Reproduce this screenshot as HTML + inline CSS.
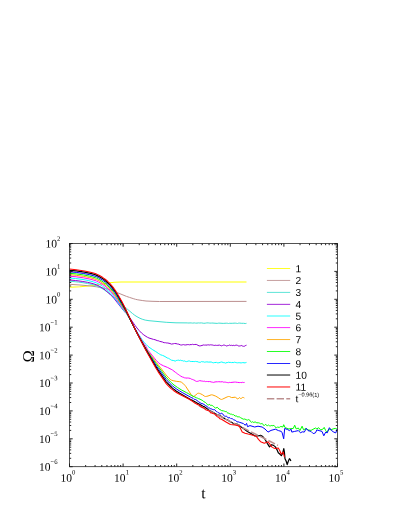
<!DOCTYPE html>
<html>
<head>
<meta charset="utf-8">
<title>Omega vs t</title>
<style>
html,body{margin:0;padding:0;background:#fff;}
body{width:407px;height:527px;overflow:hidden;font-family:"Liberation Sans",sans-serif;}
#plot{width:407px;height:527px;will-change:transform;}
svg{display:block;}
</style>
</head>
<body>
<div id="plot">
<svg width="407" height="527" viewBox="0 0 407 527">
<rect width="407" height="527" fill="#ffffff"/>
<g fill="none" stroke-linejoin="round" stroke-linecap="butt">
<polyline stroke="#ffff00" stroke-width="1.05" points="69.5,287.3 80.0,286.8 88.2,286.1 96.5,285.1 102.5,284.1 107.8,283.1 110.0,282.8 114.5,282.3 121.2,281.9 246.5,282.0"/>
<polyline stroke="#bc8f8f" stroke-width="1.00" points="69.5,284.3 80.0,285.0 89.8,285.9 96.5,286.8 103.2,288.1 107.8,289.1 111.5,290.3 115.2,291.8 126.5,296.4 129.5,297.4 133.2,298.6 135.5,299.3 137.8,299.8 142.2,300.5 146.0,301.0 152.0,301.3 159.5,301.5 246.5,301.4"/>
<polyline stroke="#40e0d0" stroke-width="1.00" points="69.5,281.2 74.0,281.6 78.5,282.1 83.0,282.7 87.5,283.5 91.2,284.3 95.0,285.3 97.2,286.1 99.5,287.2 102.5,288.8 104.0,289.7 107.0,291.9 110.0,294.2 112.2,296.1 119.0,302.8 122.8,306.2 124.2,307.3 126.5,308.4 127.2,309.0 132.5,313.5 134.8,315.3 137.0,316.7 140.0,318.3 142.2,319.2 145.2,320.1 149.0,320.7 166.2,322.3 176.0,322.8 187.2,322.9 188.0,323.0 191.0,322.9 191.8,323.0 192.5,323.1 194.8,322.9 195.5,323.1 197.0,323.1 198.5,322.9 199.2,323.0 201.5,322.9 203.8,323.3 205.2,323.2 206.8,322.9 208.2,322.9 209.8,323.1 211.2,323.1 212.0,323.0 217.2,323.4 218.8,323.1 223.2,323.4 226.2,323.2 227.8,323.3 228.5,323.5 229.2,323.3 232.2,323.3 235.2,323.1 236.0,323.3 236.8,323.3 237.5,323.5 238.2,323.2 239.8,323.1 241.2,323.3 243.5,323.3 245.0,323.5 245.8,323.5 246.5,323.3"/>
<polyline stroke="#9400d3" stroke-width="1.00" points="69.5,280.0 75.5,280.5 82.2,281.4 87.5,282.3 92.0,283.4 95.0,284.3 98.0,285.5 101.0,287.2 104.0,289.1 107.0,291.5 110.0,294.2 111.5,295.7 113.8,298.2 123.5,310.5 124.2,311.4 126.5,313.3 127.2,314.2 130.2,318.4 134.8,325.1 137.0,328.0 139.2,330.6 141.5,333.0 143.8,334.9 146.0,336.4 147.5,337.3 149.0,338.0 153.5,339.4 155.0,339.7 157.2,340.6 158.8,340.9 159.5,341.3 162.5,342.0 164.0,342.7 164.8,342.7 165.5,342.7 166.2,342.9 167.8,343.0 170.0,343.5 171.5,344.1 173.8,343.7 174.5,343.5 176.0,343.6 177.5,344.0 178.2,344.0 180.5,344.9 181.2,345.0 182.0,345.0 182.8,344.7 183.5,344.6 184.2,344.9 185.0,344.8 185.8,345.0 187.2,344.6 188.0,344.7 188.8,344.6 189.5,344.8 191.0,344.5 191.8,344.6 192.5,344.3 193.2,344.6 194.0,344.5 194.8,344.5 196.2,344.4 199.2,345.9 200.8,345.8 203.8,344.9 204.5,345.1 205.2,345.0 206.0,345.2 207.5,344.9 208.2,344.9 209.0,344.8 209.8,345.1 210.5,344.8 211.2,344.8 212.0,345.1 212.8,345.0 213.5,345.3 214.2,345.4 215.0,345.4 215.8,345.2 216.5,345.4 217.2,345.4 219.5,345.1 220.2,345.3 221.0,345.8 221.8,345.8 222.5,345.5 223.2,345.1 224.8,345.2 225.5,345.5 226.2,346.1 227.0,345.6 227.8,345.7 228.5,345.5 229.2,345.0 230.8,345.5 231.5,345.3 232.2,345.6 233.8,345.3 234.5,345.6 235.2,345.3 236.0,345.3 236.8,345.1 237.5,345.4 238.2,345.9 239.8,346.0 240.5,345.8 241.2,345.5 242.0,345.7 242.8,346.2 243.5,346.3 244.2,346.3 245.8,345.4 246.5,345.2"/>
<polyline stroke="#00ffff" stroke-width="1.00" points="69.5,278.0 75.5,278.5 83.0,279.5 88.2,280.5 93.5,281.9 96.5,282.9 99.5,284.4 102.5,286.2 105.5,288.4 110.0,292.4 113.0,295.7 116.8,300.6 124.2,311.2 126.5,313.8 129.5,318.7 134.8,328.0 138.5,334.2 142.2,339.8 144.5,342.7 146.0,344.4 147.5,345.9 149.0,347.2 152.8,349.8 155.8,351.6 158.8,353.7 159.5,354.1 160.2,354.6 161.0,354.9 162.5,355.4 164.0,356.0 167.8,358.2 168.5,358.3 169.2,358.7 170.8,359.8 171.5,360.2 173.8,360.6 175.2,361.1 176.0,360.8 176.8,360.3 177.5,360.3 178.2,360.1 179.8,360.5 180.5,360.2 181.2,360.5 182.0,360.7 182.8,360.7 183.5,361.1 184.2,360.9 185.0,361.0 185.8,361.6 186.5,361.6 187.2,361.4 188.0,361.3 188.8,360.9 189.5,361.0 190.2,361.4 191.8,361.5 193.2,361.5 194.8,361.6 195.5,361.4 196.2,361.6 197.0,361.5 198.5,362.1 199.2,362.2 200.0,362.4 200.8,362.1 201.5,361.6 202.2,361.8 203.0,361.7 203.8,361.9 204.5,362.2 205.2,362.0 206.0,362.1 206.8,361.8 208.2,362.1 211.2,362.0 212.8,362.7 213.5,362.8 214.2,362.6 216.5,362.4 217.2,362.8 218.0,362.7 218.8,362.8 220.2,362.4 221.0,362.0 221.8,362.0 223.2,362.5 224.0,362.8 224.8,362.7 225.5,363.1 227.0,362.5 227.8,362.5 228.5,362.2 230.0,362.5 230.8,362.4 231.5,362.6 233.0,362.4 233.8,362.6 234.5,362.2 235.2,362.3 236.0,362.7 236.8,362.7 237.5,362.8 238.2,362.8 239.0,362.5 239.8,362.8 241.2,362.9 242.8,362.6 245.0,362.9 245.8,362.6 246.5,362.4"/>
<polyline stroke="#ff00ff" stroke-width="1.00" points="69.5,276.2 76.2,276.8 83.8,277.9 89.8,279.1 95.0,280.5 96.5,281.1 98.8,282.2 102.5,284.4 104.0,285.4 106.2,287.2 110.0,290.6 112.2,293.1 115.2,296.8 119.0,302.3 124.2,310.2 126.5,313.3 129.5,318.5 134.8,328.2 137.8,333.5 142.2,341.0 144.5,344.4 146.0,346.4 147.4,349.2 148.1,350.3 154.4,358.2 156.5,360.7 158.6,362.9 160.7,364.4 163.5,365.8 167.7,367.5 171.9,369.7 172.6,370.1 175.4,372.3 176.8,373.3 177.5,373.9 178.2,374.3 179.6,375.4 180.3,375.8 181.0,376.3 182.4,377.0 183.1,377.1 184.5,377.8 185.2,377.8 185.9,378.1 187.3,378.0 188.7,378.1 190.1,378.4 190.8,378.7 191.5,379.2 192.2,379.4 192.9,379.5 193.6,379.9 195.0,380.5 195.7,381.1 196.4,381.4 197.8,381.3 198.5,381.1 199.2,380.7 199.9,380.7 201.3,380.9 202.0,381.3 202.7,381.1 203.4,381.3 204.8,381.2 205.5,381.6 206.2,381.4 206.9,381.6 207.6,381.5 209.0,381.7 209.7,381.5 211.8,382.1 212.5,382.2 213.2,382.5 213.9,382.2 216.0,381.8 217.4,381.8 218.8,381.7 220.2,381.8 220.9,381.9 222.3,381.7 223.7,382.2 224.4,382.1 225.1,382.3 225.8,382.1 226.5,382.4 227.2,382.6 227.9,382.5 228.6,382.7 229.3,382.4 230.7,382.5 234.2,382.1 235.6,382.1 237.7,382.4 239.8,382.6 240.5,382.5 241.9,382.6 242.6,382.3 243.3,382.5 244.6,382.4"/>
<polyline stroke="#ffa500" stroke-width="1.00" points="69.5,274.7 76.2,275.3 83.8,276.4 89.8,277.6 95.0,279.1 96.5,279.6 98.8,280.7 101.0,282.0 103.2,283.4 106.2,285.8 110.0,289.2 112.2,291.7 114.5,294.5 116.8,297.7 120.5,303.4 126.5,312.9 130.2,319.9 136.2,331.5 140.8,339.6 143.8,344.8 146.0,348.4 148.2,351.7 156.5,362.7 160.2,367.3 166.0,374.9 169.0,378.2 170.2,379.3 171.4,380.1 173.2,380.7 176.2,381.3 179.8,381.7 181.0,382.0 181.6,382.3 182.8,383.2 185.2,385.7 185.8,386.5 191.2,394.7 191.8,395.5 192.4,396.1 193.0,396.5 193.6,396.4 194.2,396.1 196.0,394.8 197.2,393.7 197.8,393.3 198.4,393.2 199.6,393.4 200.8,393.9 202.6,394.8 204.4,396.1 205.0,396.4 205.6,396.5 206.8,396.3 208.0,396.0 211.0,394.9 211.6,394.8 212.8,395.0 215.8,396.2 218.2,397.6 220.0,398.9 220.6,399.2 221.2,399.4 221.8,399.4 222.4,399.2 227.2,396.9 228.4,396.5 229.0,396.5 229.6,396.6 231.4,397.5 232.0,397.6 235.0,397.2 235.6,397.4 237.4,398.8 238.0,398.9 239.2,397.7 239.8,397.7 240.4,398.4 241.0,398.8 241.6,398.3 242.2,397.5 242.8,397.4 243.4,397.5 244.0,397.7 244.4,398.0"/>
<polyline stroke="#00ff00" stroke-width="1.00" points="69.5,273.3 76.2,273.9 83.8,275.0 89.8,276.2 95.0,277.7 96.5,278.2 98.8,279.3 101.0,280.6 103.2,282.0 106.2,284.4 110.0,287.8 113.0,291.2 115.2,294.2 117.5,297.6 121.2,303.6 126.5,312.4 135.5,330.1 140.0,338.4 143.8,345.1 148.2,352.4 155.8,363.3 163.2,373.2 165.9,377.0 168.6,379.9 171.3,382.6 174.0,385.0 177.6,387.5 181.2,389.8 186.6,392.7 188.4,393.6 190.2,394.8 191.1,395.2 192.0,395.6 193.8,396.6 194.7,396.9 196.5,397.8 197.4,398.1 198.3,398.6 200.1,399.2 201.0,399.8 201.9,400.1 202.8,400.7 203.7,401.5 205.5,402.5 206.4,403.3 207.3,404.5 208.2,405.2 209.1,404.3 210.0,404.8 210.9,405.6 211.8,405.1 212.7,406.0 213.6,406.5 214.5,407.2 215.4,408.2 217.2,407.3 218.1,408.0 219.0,409.2 219.9,409.5 221.7,410.6 223.5,410.9 224.4,411.2 225.3,411.6 226.2,411.3 227.1,412.5 228.0,413.4 228.9,413.0 229.8,413.9 230.7,414.2 231.6,414.2 232.5,414.7 233.4,414.6 235.2,416.1 236.1,415.8 237.9,417.0 238.8,416.8 239.7,417.0 240.6,417.7 243.3,419.2 244.2,419.0 245.1,419.2 246.9,420.0 247.8,420.1 248.7,419.5 249.6,420.0 250.5,421.6 251.4,422.3 252.3,421.7 253.2,422.3 254.1,422.4 255.0,421.8 255.9,422.3 256.8,422.8 258.6,422.8 259.5,423.1 260.4,423.8 261.3,423.7 262.2,423.4 264.0,425.7 264.9,424.8 265.8,424.3 266.7,425.6 267.6,425.6 268.5,425.0 269.4,425.7 270.3,425.9 271.2,425.5 272.1,425.7 273.0,425.7 273.9,425.3 274.8,426.3 275.7,427.7 276.6,427.6 277.5,427.1 279.3,427.4 280.2,426.7 281.0,426.5 282.9,427.0 283.7,424.7 285.2,427.7 288.8,428.9 293.3,428.4 294.7,425.2 296.2,428.9 298.4,428.0 299.9,430.6 302.1,426.2 303.6,429.9 305.8,428.4 308.0,429.9 311.0,430.4 315.4,428.0 316.9,428.9 318.6,427.7 320.6,429.9 322.8,429.2 324.2,427.4 325.7,430.6 327.2,432.1 329.0,428.9 330.9,429.9 333.1,428.9 335.3,428.4 337.1,429.2"/>
<polyline stroke="#0000ff" stroke-width="1.00" points="69.5,271.8 76.2,272.4 83.8,273.5 89.8,274.7 95.0,276.2 96.5,276.7 98.8,277.8 102.5,280.0 105.5,282.2 109.2,285.6 112.2,288.9 115.2,292.8 118.2,297.5 122.0,303.8 126.5,311.9 134.0,327.1 137.0,333.0 143.0,344.1 147.5,351.9 156.5,366.1 164.0,376.4 166.0,379.3 169.6,383.1 172.3,385.7 174.1,387.2 176.8,389.2 179.5,390.9 182.2,392.5 190.3,397.0 191.2,397.5 192.1,397.8 193.0,398.3 193.9,399.2 194.8,399.4 195.7,399.5 198.4,401.6 201.1,403.4 202.9,403.8 205.6,405.6 206.5,405.9 207.4,407.1 208.3,407.9 209.2,407.8 210.1,408.6 211.0,408.9 211.9,409.0 212.8,409.6 213.7,409.7 214.6,409.6 216.4,411.6 217.3,411.8 218.2,412.7 219.1,413.0 220.0,413.7 220.9,413.9 221.8,413.1 222.7,413.9 223.6,415.2 224.5,416.2 225.4,416.3 226.3,416.2 227.2,416.7 228.1,417.9 229.0,417.8 229.9,417.7 230.8,418.6 231.7,418.6 232.6,418.9 233.5,419.7 235.3,420.3 236.2,421.1 237.1,421.8 238.9,422.0 239.2,422.2 243.5,423.6 245.2,425.3 246.6,423.4 247.5,426.7 250.0,425.6 254.7,427.0 258.0,426.2 262.1,427.0 265.0,429.0 268.0,432.1 271.0,430.4 275.4,429.2 278.5,430.6 281.3,431.4 282.2,432.9 283.7,438.8 284.7,428.4 287.4,429.5 289.6,430.6 291.1,429.2 291.8,432.1 294.7,431.4 298.4,430.6 300.6,432.9 302.1,431.8 304.3,432.1 306.3,428.4 308.0,430.6 311.0,431.4 313.2,433.6 315.4,432.9 316.9,429.9 319.1,430.6 322.0,431.4 323.8,435.8 325.7,432.1 327.2,432.9 329.4,427.7 331.6,430.6 333.8,432.1 335.8,432.9 337.1,429.2"/>
<polyline stroke="#000000" stroke-width="1.20" points="69.5,270.3 76.2,270.9 84.5,272.1 90.5,273.4 93.5,274.2 95.8,274.9 97.2,275.6 99.5,276.7 102.5,278.5 104.0,279.6 105.5,280.7 107.8,282.7 110.0,284.9 111.5,286.5 113.8,289.3 116.0,292.5 119.0,297.5 122.0,302.7 125.8,309.9 134.0,327.1 138.5,335.9 146.0,349.9 155.8,366.7 158.0,370.1 166.2,381.8 169.8,385.5 172.5,388.1 174.3,389.6 176.1,390.9 179.7,393.3 191.4,399.9 195.9,402.3 197.7,403.4 199.5,404.2 203.1,406.3 204.0,406.6 206.7,408.4 209.4,410.5 211.2,411.3 212.1,411.8 213.0,412.2 213.9,412.7 214.8,413.5 215.7,413.8 216.6,414.6 217.5,415.2 218.4,415.0 219.3,415.2 220.2,415.7 221.1,416.2 222.0,417.1 222.9,417.7 223.8,418.0 224.7,418.6 225.6,419.3 226.5,419.6 227.4,419.7 228.3,420.5 229.2,421.1 230.1,421.7 231.0,422.0 232.8,423.1 233.7,423.9 235.5,423.7 236.4,424.2 237.3,424.1 239.1,426.1 239.2,425.2 240.0,426.2 243.5,428.5 247.4,431.4 251.0,433.4 254.7,435.8 257.5,436.0 260.6,435.4 262.8,436.6 265.1,439.5 267.3,443.4 269.5,446.9 271.7,444.7 273.5,445.4 275.4,446.9 276.9,449.6 278.3,452.8 279.8,454.0 281.3,455.7 282.6,453.5 283.8,448.6 284.4,452.0 285.0,458.7 286.1,461.0 287.2,464.6 288.3,461.2 289.4,458.7 290.2,459.4 290.9,460.9"/>
<polyline stroke="#bc8f8f" stroke-width="1.50" stroke-dasharray="7.4,2.3" points="199.0,405.8 278.0,445.3"/>
<polyline stroke="#ff0000" stroke-width="1.05" points="69.5,269.1 76.2,269.7 84.5,270.9 90.5,272.2 93.5,273.0 95.8,273.7 97.2,274.4 99.5,275.5 102.5,277.3 104.0,278.4 105.5,279.5 107.8,281.5 110.0,283.7 111.5,285.4 113.8,288.2 116.0,291.4 119.0,296.5 122.0,301.8 125.0,307.8 131.8,322.4 136.2,331.6 145.2,348.9 155.8,368.0 158.0,371.6 166.2,383.6 167.8,385.4 170.8,388.3 173.8,390.7 176.8,392.7 180.5,394.8 188.8,399.0 192.5,401.3 193.2,401.9 194.8,403.0 196.2,403.7 198.5,405.0 199.2,405.3 200.0,405.7 201.5,407.0 202.2,407.4 203.0,407.6 204.5,408.4 206.0,409.9 206.8,410.1 207.5,410.5 209.0,410.7 209.8,411.5 210.5,412.7 211.2,412.9 212.0,412.8 212.8,413.5 213.5,413.7 214.2,413.7 215.8,415.3 216.5,415.8 217.2,416.6 218.0,417.1 218.8,417.3 220.0,418.8 221.5,419.3 226.0,422.0 230.4,424.5 235.0,425.0 239.2,426.0 242.2,431.9 245.0,433.2 248.1,434.1 252.0,434.9 256.2,436.3 258.5,439.4 260.6,441.7 264.3,443.2 266.2,442.6 268.0,441.7 270.0,444.4 271.7,446.9 273.5,447.9 275.4,448.6 278.3,448.0 279.8,450.8 281.3,454.2 283.1,452.0 284.5,457.2"/>
</g>
<path d="M69.50 466.70V463.50M69.50 243.50V246.70M85.64 466.70V465.00M85.64 243.50V245.20M95.07 466.70V465.00M95.07 243.50V245.20M101.77 466.70V465.00M101.77 243.50V245.20M106.96 466.70V465.00M106.96 243.50V245.20M111.21 466.70V465.00M111.21 243.50V245.20M114.80 466.70V465.00M114.80 243.50V245.20M117.91 466.70V465.00M117.91 243.50V245.20M120.65 466.70V465.00M120.65 243.50V245.20M123.10 466.70V463.50M123.10 243.50V246.70M139.24 466.70V465.00M139.24 243.50V245.20M148.67 466.70V465.00M148.67 243.50V245.20M155.37 466.70V465.00M155.37 243.50V245.20M160.56 466.70V465.00M160.56 243.50V245.20M164.81 466.70V465.00M164.81 243.50V245.20M168.40 466.70V465.00M168.40 243.50V245.20M171.51 466.70V465.00M171.51 243.50V245.20M174.25 466.70V465.00M174.25 243.50V245.20M176.70 466.70V463.50M176.70 243.50V246.70M192.84 466.70V465.00M192.84 243.50V245.20M202.27 466.70V465.00M202.27 243.50V245.20M208.97 466.70V465.00M208.97 243.50V245.20M214.16 466.70V465.00M214.16 243.50V245.20M218.41 466.70V465.00M218.41 243.50V245.20M222.00 466.70V465.00M222.00 243.50V245.20M225.11 466.70V465.00M225.11 243.50V245.20M227.85 466.70V465.00M227.85 243.50V245.20M230.30 466.70V463.50M230.30 243.50V246.70M246.44 466.70V465.00M246.44 243.50V245.20M255.87 466.70V465.00M255.87 243.50V245.20M262.57 466.70V465.00M262.57 243.50V245.20M267.76 466.70V465.00M267.76 243.50V245.20M272.01 466.70V465.00M272.01 243.50V245.20M275.60 466.70V465.00M275.60 243.50V245.20M278.71 466.70V465.00M278.71 243.50V245.20M281.45 466.70V465.00M281.45 243.50V245.20M283.90 466.70V463.50M283.90 243.50V246.70M300.04 466.70V465.00M300.04 243.50V245.20M309.47 466.70V465.00M309.47 243.50V245.20M316.17 466.70V465.00M316.17 243.50V245.20M321.36 466.70V465.00M321.36 243.50V245.20M325.61 466.70V465.00M325.61 243.50V245.20M329.20 466.70V465.00M329.20 243.50V245.20M332.31 466.70V465.00M332.31 243.50V245.20M335.05 466.70V465.00M335.05 243.50V245.20M337.50 466.70V463.50M337.50 243.50V246.70M69.50 243.50H72.70M337.50 243.50H334.30M69.50 263.00H71.20M337.50 263.00H335.80M69.50 258.09H71.20M337.50 258.09H335.80M69.50 254.60H71.20M337.50 254.60H335.80M69.50 251.90H71.20M337.50 251.90H335.80M69.50 249.69H71.20M337.50 249.69H335.80M69.50 247.82H71.20M337.50 247.82H335.80M69.50 246.20H71.20M337.50 246.20H335.80M69.50 244.78H71.20M337.50 244.78H335.80M69.50 271.40H72.70M337.50 271.40H334.30M69.50 290.90H71.20M337.50 290.90H335.80M69.50 285.99H71.20M337.50 285.99H335.80M69.50 282.50H71.20M337.50 282.50H335.80M69.50 279.80H71.20M337.50 279.80H335.80M69.50 277.59H71.20M337.50 277.59H335.80M69.50 275.72H71.20M337.50 275.72H335.80M69.50 274.10H71.20M337.50 274.10H335.80M69.50 272.68H71.20M337.50 272.68H335.80M69.50 299.30H72.70M337.50 299.30H334.30M69.50 318.80H71.20M337.50 318.80H335.80M69.50 313.89H71.20M337.50 313.89H335.80M69.50 310.40H71.20M337.50 310.40H335.80M69.50 307.70H71.20M337.50 307.70H335.80M69.50 305.49H71.20M337.50 305.49H335.80M69.50 303.62H71.20M337.50 303.62H335.80M69.50 302.00H71.20M337.50 302.00H335.80M69.50 300.58H71.20M337.50 300.58H335.80M69.50 327.20H72.70M337.50 327.20H334.30M69.50 346.70H71.20M337.50 346.70H335.80M69.50 341.79H71.20M337.50 341.79H335.80M69.50 338.30H71.20M337.50 338.30H335.80M69.50 335.60H71.20M337.50 335.60H335.80M69.50 333.39H71.20M337.50 333.39H335.80M69.50 331.52H71.20M337.50 331.52H335.80M69.50 329.90H71.20M337.50 329.90H335.80M69.50 328.48H71.20M337.50 328.48H335.80M69.50 355.10H72.70M337.50 355.10H334.30M69.50 374.60H71.20M337.50 374.60H335.80M69.50 369.69H71.20M337.50 369.69H335.80M69.50 366.20H71.20M337.50 366.20H335.80M69.50 363.50H71.20M337.50 363.50H335.80M69.50 361.29H71.20M337.50 361.29H335.80M69.50 359.42H71.20M337.50 359.42H335.80M69.50 357.80H71.20M337.50 357.80H335.80M69.50 356.38H71.20M337.50 356.38H335.80M69.50 383.00H72.70M337.50 383.00H334.30M69.50 402.50H71.20M337.50 402.50H335.80M69.50 397.59H71.20M337.50 397.59H335.80M69.50 394.10H71.20M337.50 394.10H335.80M69.50 391.40H71.20M337.50 391.40H335.80M69.50 389.19H71.20M337.50 389.19H335.80M69.50 387.32H71.20M337.50 387.32H335.80M69.50 385.70H71.20M337.50 385.70H335.80M69.50 384.28H71.20M337.50 384.28H335.80M69.50 410.90H72.70M337.50 410.90H334.30M69.50 430.40H71.20M337.50 430.40H335.80M69.50 425.49H71.20M337.50 425.49H335.80M69.50 422.00H71.20M337.50 422.00H335.80M69.50 419.30H71.20M337.50 419.30H335.80M69.50 417.09H71.20M337.50 417.09H335.80M69.50 415.22H71.20M337.50 415.22H335.80M69.50 413.60H71.20M337.50 413.60H335.80M69.50 412.18H71.20M337.50 412.18H335.80M69.50 438.80H72.70M337.50 438.80H334.30M69.50 458.30H71.20M337.50 458.30H335.80M69.50 453.39H71.20M337.50 453.39H335.80M69.50 449.90H71.20M337.50 449.90H335.80M69.50 447.20H71.20M337.50 447.20H335.80M69.50 444.99H71.20M337.50 444.99H335.80M69.50 443.12H71.20M337.50 443.12H335.80M69.50 441.50H71.20M337.50 441.50H335.80M69.50 440.08H71.20M337.50 440.08H335.80M69.50 466.70H72.70M337.50 466.70H334.30" stroke="#000" stroke-width="0.85" fill="none"/>
<rect x="69.50" y="243.50" width="268.00" height="223.20" fill="none" stroke="#1a1a1a" stroke-width="0.75"/>
<g font-family="'Liberation Serif', serif" fill="#000">
<text x="60.50" y="481.80" transform="rotate(0.30 60.50 481.80)" font-size="11.5">10<tspan font-size="6.7" dy="-7.4">0</tspan></text>
<text x="114.10" y="481.80" transform="rotate(0.30 114.10 481.80)" font-size="11.5">10<tspan font-size="6.7" dy="-7.4">1</tspan></text>
<text x="167.70" y="481.80" transform="rotate(0.30 167.70 481.80)" font-size="11.5">10<tspan font-size="6.7" dy="-7.4">2</tspan></text>
<text x="221.30" y="481.80" transform="rotate(0.30 221.30 481.80)" font-size="11.5">10<tspan font-size="6.7" dy="-7.4">3</tspan></text>
<text x="274.90" y="481.80" transform="rotate(0.30 274.90 481.80)" font-size="11.5">10<tspan font-size="6.7" dy="-7.4">4</tspan></text>
<text x="328.50" y="481.80" transform="rotate(0.30 328.50 481.80)" font-size="11.5">10<tspan font-size="6.7" dy="-7.4">5</tspan></text>
<text x="45.40" y="247.60" transform="rotate(0.30 45.40 247.60)" font-size="11.5">10<tspan font-size="6.7" dy="-6.9">2</tspan></text>
<text x="45.40" y="275.50" transform="rotate(0.30 45.40 275.50)" font-size="11.5">10<tspan font-size="6.7" dy="-6.9">1</tspan></text>
<text x="45.40" y="303.40" transform="rotate(0.30 45.40 303.40)" font-size="11.5">10<tspan font-size="6.7" dy="-6.9">0</tspan></text>
<text x="39.00" y="331.30" transform="rotate(0.30 39.00 331.30)" font-size="11.5">10<tspan font-size="6.7" dy="-6.9">−1</tspan></text>
<text x="39.00" y="359.20" transform="rotate(0.30 39.00 359.20)" font-size="11.5">10<tspan font-size="6.7" dy="-6.9">−2</tspan></text>
<text x="39.00" y="387.10" transform="rotate(0.30 39.00 387.10)" font-size="11.5">10<tspan font-size="6.7" dy="-6.9">−3</tspan></text>
<text x="39.00" y="415.00" transform="rotate(0.30 39.00 415.00)" font-size="11.5">10<tspan font-size="6.7" dy="-6.9">−4</tspan></text>
<text x="39.00" y="442.90" transform="rotate(0.30 39.00 442.90)" font-size="11.5">10<tspan font-size="6.7" dy="-6.9">−5</tspan></text>
<text x="39.00" y="470.80" transform="rotate(0.30 39.00 470.80)" font-size="11.5">10<tspan font-size="6.7" dy="-6.9">−6</tspan></text>
<text x="203.50" y="498.20" transform="rotate(0.30 203.50 498.20)" font-size="15.5" text-anchor="middle">t</text>
<text transform="translate(34.0,356.5) rotate(-89.7)" font-size="16.5" text-anchor="middle">Ω</text>
</g>
<g font-family="'Liberation Sans', sans-serif" font-size="10.2" fill="#000">
<line x1="266.9" x2="290.2" y1="268.50" y2="268.50" stroke="#ffff00" stroke-width="0.85"/>
<text x="295.50" y="272.15" transform="rotate(0.30 295.50 272.15)">1</text>
<line x1="266.9" x2="290.2" y1="280.45" y2="280.45" stroke="#bc8f8f" stroke-width="0.85"/>
<text x="295.50" y="284.10" transform="rotate(0.30 295.50 284.10)">2</text>
<line x1="266.9" x2="290.2" y1="292.40" y2="292.40" stroke="#40e0d0" stroke-width="0.85"/>
<text x="295.50" y="296.05" transform="rotate(0.30 295.50 296.05)">3</text>
<line x1="266.9" x2="290.2" y1="304.35" y2="304.35" stroke="#9400d3" stroke-width="0.85"/>
<text x="295.50" y="308.00" transform="rotate(0.30 295.50 308.00)">4</text>
<line x1="266.9" x2="290.2" y1="316.00" y2="316.00" stroke="#00ffff" stroke-width="0.85"/>
<text x="295.50" y="319.65" transform="rotate(0.30 295.50 319.65)">5</text>
<line x1="266.9" x2="290.2" y1="327.60" y2="327.60" stroke="#ff00ff" stroke-width="0.85"/>
<text x="295.50" y="331.25" transform="rotate(0.30 295.50 331.25)">6</text>
<line x1="266.9" x2="290.2" y1="339.55" y2="339.55" stroke="#ffa500" stroke-width="0.85"/>
<text x="295.50" y="343.20" transform="rotate(0.30 295.50 343.20)">7</text>
<line x1="266.9" x2="290.2" y1="351.50" y2="351.50" stroke="#00ff00" stroke-width="0.85"/>
<text x="295.50" y="355.15" transform="rotate(0.30 295.50 355.15)">8</text>
<line x1="266.9" x2="290.2" y1="363.50" y2="363.50" stroke="#0000ff" stroke-width="0.85"/>
<text x="295.50" y="367.15" transform="rotate(0.30 295.50 367.15)">9</text>
<line x1="266.9" x2="290.2" y1="375.03" y2="375.03" stroke="#000000" stroke-width="1.00"/>
<text x="295.50" y="378.68" transform="rotate(0.30 295.50 378.68)">10</text>
<line x1="266.9" x2="290.2" y1="386.97" y2="386.97" stroke="#ff0000" stroke-width="1.00"/>
<text x="295.50" y="390.62" transform="rotate(0.30 295.50 390.62)">11</text>
<line x1="266.9" x2="290.2" y1="398.65" y2="398.65" stroke="#bc8f8f" stroke-width="1.5" stroke-dasharray="7.4,2.3"/>
<text x="295.50" y="402.30" transform="rotate(0.30 295.50 402.30)">t</text>
<text x="298.20" y="396.55" transform="rotate(0.30 298.20 396.55)" font-size="5.6">−0.96(1)</text>
</g>
</svg>
</div>
</body>
</html>
